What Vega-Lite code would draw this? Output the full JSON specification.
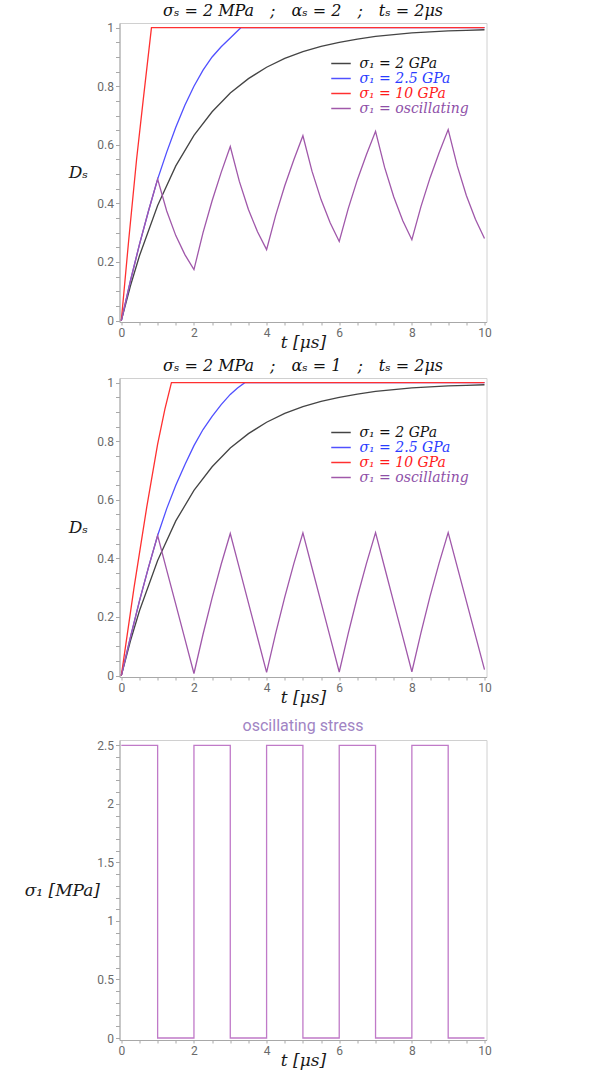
{
  "$schema": "https://vega.github.io/schema/vega-lite/v6.json",
  "background": "white",
  "padding": {"left": 23.5, "top": 2, "right": 5, "bottom": 2},
  "spacing": 6,
  "config": {
    "view": {"stroke": "#d0d0d0", "strokeWidth": 1},
    "axis": {
      "domainColor": "#a8a8a8", "tickColor": "#a8a8a8", "tickSize": 4,
      "labelColor": "#6a6a6a", "labelFont": "Roboto", "labelFontSize": 12,
      "labelFlush": false, "labelOverlap": false, "grid": false,
      "titleFont": "DejaVu Serif", "titleFontStyle": "italic", "titleFontWeight": "normal",
      "titleFontSize": 17, "titleColor": "#1a1a1a"
    }
  },
  "datasets": {
    "top": [
      {"s": "σ₁ = 2 GPa", "t": 0, "D": 0},
      {"s": "σ₁ = 2 GPa", "t": 0.25, "D": 0.118},
      {"s": "σ₁ = 2 GPa", "t": 0.5, "D": 0.221},
      {"s": "σ₁ = 2 GPa", "t": 1, "D": 0.393},
      {"s": "σ₁ = 2 GPa", "t": 1.5, "D": 0.528},
      {"s": "σ₁ = 2 GPa", "t": 2, "D": 0.632},
      {"s": "σ₁ = 2 GPa", "t": 2.5, "D": 0.713},
      {"s": "σ₁ = 2 GPa", "t": 3, "D": 0.777},
      {"s": "σ₁ = 2 GPa", "t": 3.5, "D": 0.826},
      {"s": "σ₁ = 2 GPa", "t": 4, "D": 0.865},
      {"s": "σ₁ = 2 GPa", "t": 4.5, "D": 0.895},
      {"s": "σ₁ = 2 GPa", "t": 5, "D": 0.918},
      {"s": "σ₁ = 2 GPa", "t": 5.5, "D": 0.936},
      {"s": "σ₁ = 2 GPa", "t": 6, "D": 0.95},
      {"s": "σ₁ = 2 GPa", "t": 6.5, "D": 0.961},
      {"s": "σ₁ = 2 GPa", "t": 7, "D": 0.97},
      {"s": "σ₁ = 2 GPa", "t": 7.5, "D": 0.976},
      {"s": "σ₁ = 2 GPa", "t": 8, "D": 0.982},
      {"s": "σ₁ = 2 GPa", "t": 8.5, "D": 0.986},
      {"s": "σ₁ = 2 GPa", "t": 9, "D": 0.989},
      {"s": "σ₁ = 2 GPa", "t": 9.5, "D": 0.991},
      {"s": "σ₁ = 2 GPa", "t": 10, "D": 0.993},
      {"s": "σ₁ = 2.5 GPa", "t": 0, "D": 0},
      {"s": "σ₁ = 2.5 GPa", "t": 0.25, "D": 0.135},
      {"s": "σ₁ = 2.5 GPa", "t": 0.5, "D": 0.26},
      {"s": "σ₁ = 2.5 GPa", "t": 0.75, "D": 0.375},
      {"s": "σ₁ = 2.5 GPa", "t": 1, "D": 0.483},
      {"s": "σ₁ = 2.5 GPa", "t": 1.25, "D": 0.575},
      {"s": "σ₁ = 2.5 GPa", "t": 1.5, "D": 0.66},
      {"s": "σ₁ = 2.5 GPa", "t": 1.75, "D": 0.735},
      {"s": "σ₁ = 2.5 GPa", "t": 2, "D": 0.8},
      {"s": "σ₁ = 2.5 GPa", "t": 2.25, "D": 0.855},
      {"s": "σ₁ = 2.5 GPa", "t": 2.5, "D": 0.9},
      {"s": "σ₁ = 2.5 GPa", "t": 2.75, "D": 0.935},
      {"s": "σ₁ = 2.5 GPa", "t": 3, "D": 0.965},
      {"s": "σ₁ = 2.5 GPa", "t": 3.29, "D": 1},
      {"s": "σ₁ = 2.5 GPa", "t": 10, "D": 1},
      {"s": "σ₁ = 10 GPa", "t": 0, "D": 0},
      {"s": "σ₁ = 10 GPa", "t": 0.2, "D": 0.27},
      {"s": "σ₁ = 10 GPa", "t": 0.42, "D": 0.55},
      {"s": "σ₁ = 10 GPa", "t": 0.6, "D": 0.75},
      {"s": "σ₁ = 10 GPa", "t": 0.83, "D": 1},
      {"s": "σ₁ = 10 GPa", "t": 10, "D": 1},
      {"s": "σ₁ = oscillating", "t": 0, "D": 0},
      {"s": "σ₁ = oscillating", "t": 0.25, "D": 0.135},
      {"s": "σ₁ = oscillating", "t": 0.5, "D": 0.26},
      {"s": "σ₁ = oscillating", "t": 0.75, "D": 0.375},
      {"s": "σ₁ = oscillating", "t": 1, "D": 0.483},
      {"s": "σ₁ = oscillating", "t": 1.25, "D": 0.374},
      {"s": "σ₁ = oscillating", "t": 1.5, "D": 0.29},
      {"s": "σ₁ = oscillating", "t": 1.75, "D": 0.225},
      {"s": "σ₁ = oscillating", "t": 2, "D": 0.174},
      {"s": "σ₁ = oscillating", "t": 2.25, "D": 0.3},
      {"s": "σ₁ = oscillating", "t": 2.5, "D": 0.409},
      {"s": "σ₁ = oscillating", "t": 2.75, "D": 0.506},
      {"s": "σ₁ = oscillating", "t": 3, "D": 0.594},
      {"s": "σ₁ = oscillating", "t": 3.25, "D": 0.475},
      {"s": "σ₁ = oscillating", "t": 3.5, "D": 0.379},
      {"s": "σ₁ = oscillating", "t": 3.75, "D": 0.303},
      {"s": "σ₁ = oscillating", "t": 4, "D": 0.242},
      {"s": "σ₁ = oscillating", "t": 4.25, "D": 0.359},
      {"s": "σ₁ = oscillating", "t": 4.5, "D": 0.46},
      {"s": "σ₁ = oscillating", "t": 4.75, "D": 0.549},
      {"s": "σ₁ = oscillating", "t": 5, "D": 0.631},
      {"s": "σ₁ = oscillating", "t": 5.25, "D": 0.51},
      {"s": "σ₁ = oscillating", "t": 5.5, "D": 0.413},
      {"s": "σ₁ = oscillating", "t": 5.75, "D": 0.334},
      {"s": "σ₁ = oscillating", "t": 6, "D": 0.27},
      {"s": "σ₁ = oscillating", "t": 6.25, "D": 0.383},
      {"s": "σ₁ = oscillating", "t": 6.5, "D": 0.481},
      {"s": "σ₁ = oscillating", "t": 6.75, "D": 0.567},
      {"s": "σ₁ = oscillating", "t": 7, "D": 0.646},
      {"s": "σ₁ = oscillating", "t": 7.25, "D": 0.523},
      {"s": "σ₁ = oscillating", "t": 7.5, "D": 0.4225},
      {"s": "σ₁ = oscillating", "t": 7.75, "D": 0.341},
      {"s": "σ₁ = oscillating", "t": 8, "D": 0.276},
      {"s": "σ₁ = oscillating", "t": 8.25, "D": 0.389},
      {"s": "σ₁ = oscillating", "t": 8.5, "D": 0.487},
      {"s": "σ₁ = oscillating", "t": 8.75, "D": 0.573},
      {"s": "σ₁ = oscillating", "t": 9, "D": 0.652},
      {"s": "σ₁ = oscillating", "t": 9.25, "D": 0.528},
      {"s": "σ₁ = oscillating", "t": 9.5, "D": 0.427},
      {"s": "σ₁ = oscillating", "t": 9.75, "D": 0.346},
      {"s": "σ₁ = oscillating", "t": 10, "D": 0.28}
    ],
    "mid": [
      {"s": "σ₁ = 2 GPa", "t": 0, "D": 0},
      {"s": "σ₁ = 2 GPa", "t": 0.25, "D": 0.118},
      {"s": "σ₁ = 2 GPa", "t": 0.5, "D": 0.221},
      {"s": "σ₁ = 2 GPa", "t": 1, "D": 0.393},
      {"s": "σ₁ = 2 GPa", "t": 1.5, "D": 0.528},
      {"s": "σ₁ = 2 GPa", "t": 2, "D": 0.632},
      {"s": "σ₁ = 2 GPa", "t": 2.5, "D": 0.713},
      {"s": "σ₁ = 2 GPa", "t": 3, "D": 0.777},
      {"s": "σ₁ = 2 GPa", "t": 3.5, "D": 0.826},
      {"s": "σ₁ = 2 GPa", "t": 4, "D": 0.865},
      {"s": "σ₁ = 2 GPa", "t": 4.5, "D": 0.895},
      {"s": "σ₁ = 2 GPa", "t": 5, "D": 0.918},
      {"s": "σ₁ = 2 GPa", "t": 5.5, "D": 0.936},
      {"s": "σ₁ = 2 GPa", "t": 6, "D": 0.95},
      {"s": "σ₁ = 2 GPa", "t": 6.5, "D": 0.961},
      {"s": "σ₁ = 2 GPa", "t": 7, "D": 0.97},
      {"s": "σ₁ = 2 GPa", "t": 7.5, "D": 0.976},
      {"s": "σ₁ = 2 GPa", "t": 8, "D": 0.982},
      {"s": "σ₁ = 2 GPa", "t": 8.5, "D": 0.986},
      {"s": "σ₁ = 2 GPa", "t": 9, "D": 0.989},
      {"s": "σ₁ = 2 GPa", "t": 9.5, "D": 0.991},
      {"s": "σ₁ = 2 GPa", "t": 10, "D": 0.993},
      {"s": "σ₁ = 2.5 GPa", "t": 0, "D": 0},
      {"s": "σ₁ = 2.5 GPa", "t": 0.25, "D": 0.13},
      {"s": "σ₁ = 2.5 GPa", "t": 0.5, "D": 0.255},
      {"s": "σ₁ = 2.5 GPa", "t": 0.75, "D": 0.37},
      {"s": "σ₁ = 2.5 GPa", "t": 1, "D": 0.478},
      {"s": "σ₁ = 2.5 GPa", "t": 1.25, "D": 0.57},
      {"s": "σ₁ = 2.5 GPa", "t": 1.5, "D": 0.65},
      {"s": "σ₁ = 2.5 GPa", "t": 1.75, "D": 0.72},
      {"s": "σ₁ = 2.5 GPa", "t": 2, "D": 0.785},
      {"s": "σ₁ = 2.5 GPa", "t": 2.25, "D": 0.84},
      {"s": "σ₁ = 2.5 GPa", "t": 2.5, "D": 0.885},
      {"s": "σ₁ = 2.5 GPa", "t": 2.75, "D": 0.925},
      {"s": "σ₁ = 2.5 GPa", "t": 3, "D": 0.96},
      {"s": "σ₁ = 2.5 GPa", "t": 3.2, "D": 0.982},
      {"s": "σ₁ = 2.5 GPa", "t": 3.4, "D": 1},
      {"s": "σ₁ = 2.5 GPa", "t": 10, "D": 1},
      {"s": "σ₁ = 10 GPa", "t": 0, "D": 0},
      {"s": "σ₁ = 10 GPa", "t": 0.35, "D": 0.3},
      {"s": "σ₁ = 10 GPa", "t": 0.7, "D": 0.575},
      {"s": "σ₁ = 10 GPa", "t": 1, "D": 0.79},
      {"s": "σ₁ = 10 GPa", "t": 1.2, "D": 0.91},
      {"s": "σ₁ = 10 GPa", "t": 1.38, "D": 1},
      {"s": "σ₁ = 10 GPa", "t": 10, "D": 1},
      {"s": "σ₁ = oscillating", "t": 0, "D": 0},
      {"s": "σ₁ = oscillating", "t": 0.25, "D": 0.13},
      {"s": "σ₁ = oscillating", "t": 0.5, "D": 0.255},
      {"s": "σ₁ = oscillating", "t": 0.75, "D": 0.37},
      {"s": "σ₁ = oscillating", "t": 1, "D": 0.478},
      {"s": "σ₁ = oscillating", "t": 1.25, "D": 0.36},
      {"s": "σ₁ = oscillating", "t": 1.5, "D": 0.243},
      {"s": "σ₁ = oscillating", "t": 1.75, "D": 0.125},
      {"s": "σ₁ = oscillating", "t": 2, "D": 0.007},
      {"s": "σ₁ = oscillating", "t": 2.25, "D": 0.141},
      {"s": "σ₁ = oscillating", "t": 2.5, "D": 0.265},
      {"s": "σ₁ = oscillating", "t": 2.75, "D": 0.38},
      {"s": "σ₁ = oscillating", "t": 3, "D": 0.485},
      {"s": "σ₁ = oscillating", "t": 3.25, "D": 0.367},
      {"s": "σ₁ = oscillating", "t": 3.5, "D": 0.248},
      {"s": "σ₁ = oscillating", "t": 3.75, "D": 0.13},
      {"s": "σ₁ = oscillating", "t": 4, "D": 0.011},
      {"s": "σ₁ = oscillating", "t": 4.25, "D": 0.144},
      {"s": "σ₁ = oscillating", "t": 4.5, "D": 0.268},
      {"s": "σ₁ = oscillating", "t": 4.75, "D": 0.382},
      {"s": "σ₁ = oscillating", "t": 5, "D": 0.487},
      {"s": "σ₁ = oscillating", "t": 5.25, "D": 0.368},
      {"s": "σ₁ = oscillating", "t": 5.5, "D": 0.25},
      {"s": "σ₁ = oscillating", "t": 5.75, "D": 0.131},
      {"s": "σ₁ = oscillating", "t": 6, "D": 0.012},
      {"s": "σ₁ = oscillating", "t": 6.25, "D": 0.145},
      {"s": "σ₁ = oscillating", "t": 6.5, "D": 0.269},
      {"s": "σ₁ = oscillating", "t": 6.75, "D": 0.383},
      {"s": "σ₁ = oscillating", "t": 7, "D": 0.488},
      {"s": "σ₁ = oscillating", "t": 7.25, "D": 0.369},
      {"s": "σ₁ = oscillating", "t": 7.5, "D": 0.25},
      {"s": "σ₁ = oscillating", "t": 7.75, "D": 0.132},
      {"s": "σ₁ = oscillating", "t": 8, "D": 0.013},
      {"s": "σ₁ = oscillating", "t": 8.25, "D": 0.146},
      {"s": "σ₁ = oscillating", "t": 8.5, "D": 0.27},
      {"s": "σ₁ = oscillating", "t": 8.75, "D": 0.384},
      {"s": "σ₁ = oscillating", "t": 9, "D": 0.488},
      {"s": "σ₁ = oscillating", "t": 9.25, "D": 0.371},
      {"s": "σ₁ = oscillating", "t": 9.5, "D": 0.254},
      {"s": "σ₁ = oscillating", "t": 9.75, "D": 0.137},
      {"s": "σ₁ = oscillating", "t": 10, "D": 0.02}
    ],
    "stress": [
      {"t": 0, "sigma": 2.5},
      {"t": 1, "sigma": 0},
      {"t": 2, "sigma": 2.5},
      {"t": 3, "sigma": 0},
      {"t": 4, "sigma": 2.5},
      {"t": 5, "sigma": 0},
      {"t": 6, "sigma": 2.5},
      {"t": 7, "sigma": 0},
      {"t": 8, "sigma": 2.5},
      {"t": 9, "sigma": 0},
      {"t": 10, "sigma": 0}
    ]
  },
  "resolve": {"scale": {"color": "independent"}, "legend": {"color": "independent"}},
  "vconcat": [
    {
      "width": 367, "height": 299,
      "title": {"text": "σₛ = 2 MPa\u2002\u2002;\u2002\u2002αₛ = 2\u2002\u2002;\u2002\u2002tₛ = 2μs", "font": "DejaVu Serif", "fontStyle": "italic", "fontWeight": "normal", "fontSize": 16, "color": "#111111", "offset": 3},
      "data": {"name": "top"},
      "mark": {"type": "line", "strokeWidth": 1.3},
      "encoding": {
        "x": {"field": "t", "type": "quantitative", "title": "t [μs]",
          "scale": {"domain": [-0.05, 10.055], "nice": false, "zero": false},
          "axis": {"values": [0,0.5,1,1.5,2,2.5,3,3.5,4,4.5,5,5.5,6,6.5,7,7.5,8,8.5,9,9.5,10], "labelExpr": "datum.value % 2 === 0 ? format(datum.value, '~g') : ''", "titlePadding": -4, "tickSize": 3}},
        "y": {"field": "D", "type": "quantitative", "title": "Dₛ",
          "scale": {"domain": [-0.005, 1.016], "nice": false, "zero": false},
          "axis": {"values": [0,0.05,0.1,0.15,0.2,0.25,0.3,0.35,0.4,0.45,0.5,0.55,0.6,0.65,0.7,0.75,0.8,0.85,0.9,0.95,1], "labelExpr": "abs(datum.value*5 - round(datum.value*5)) < 0.000001 ? format(datum.value, '~g') : ''", "titleAngle": 0, "titleAlign": "right", "titleBaseline": "middle", "titleX": -32}},
        "color": {"field": "s", "type": "nominal", "sort": null,
          "scale": {"domain": ["σ₁ = 2 GPa", "σ₁ = 2.5 GPa", "σ₁ = 10 GPa", "σ₁ = oscillating"], "range": ["#444444", "#5050ff", "#ff3030", "#a058aa"]},
          "legend": {"orient": "none", "legendX": 214, "legendY": 33, "title": null, "symbolType": "M-1.5,0H1.5", "symbolSize": 169, "symbolStrokeWidth": 1.5, "labelFont": "DejaVu Serif", "labelFontStyle": "italic", "labelFontSize": 14, "labelOffset": 11, "rowPadding": -1, "padding": 0,
            "encode": {"labels": {"update": {"fill": {"signal": "indexof(datum.value,'2.5')>=0 ? '#2a3cff' : indexof(datum.value,'10')>=0 ? '#ff1a1a' : indexof(datum.value,'osc')>=0 ? '#8e4fa8' : '#111111'"}}}}}
        }
      }
    },
    {
      "width": 367, "height": 299,
      "title": {"text": "σₛ = 2 MPa\u2002\u2002;\u2002\u2002αₛ = 1\u2002\u2002;\u2002\u2002tₛ = 2μs", "font": "DejaVu Serif", "fontStyle": "italic", "fontWeight": "normal", "fontSize": 16, "color": "#111111", "offset": 3},
      "data": {"name": "mid"},
      "mark": {"type": "line", "strokeWidth": 1.3},
      "encoding": {
        "x": {"field": "t", "type": "quantitative", "title": ["t [μs]", " "],
          "scale": {"domain": [-0.05, 10.055], "nice": false, "zero": false},
          "axis": {"values": [0,0.5,1,1.5,2,2.5,3,3.5,4,4.5,5,5.5,6,6.5,7,7.5,8,8.5,9,9.5,10], "labelExpr": "datum.value % 2 === 0 ? format(datum.value, '~g') : ''", "titlePadding": -4, "tickSize": 3, "titleLineHeight": 5}},
        "y": {"field": "D", "type": "quantitative", "title": "Dₛ",
          "scale": {"domain": [-0.005, 1.016], "nice": false, "zero": false},
          "axis": {"values": [0,0.05,0.1,0.15,0.2,0.25,0.3,0.35,0.4,0.45,0.5,0.55,0.6,0.65,0.7,0.75,0.8,0.85,0.9,0.95,1], "labelExpr": "abs(datum.value*5 - round(datum.value*5)) < 0.000001 ? format(datum.value, '~g') : ''", "titleAngle": 0, "titleAlign": "right", "titleBaseline": "middle", "titleX": -32}},
        "color": {"field": "s", "type": "nominal", "sort": null,
          "scale": {"domain": ["σ₁ = 2 GPa", "σ₁ = 2.5 GPa", "σ₁ = 10 GPa", "σ₁ = oscillating"], "range": ["#444444", "#5050ff", "#ff3030", "#a058aa"]},
          "legend": {"orient": "none", "legendX": 214, "legendY": 47, "title": null, "symbolType": "M-1.5,0H1.5", "symbolSize": 169, "symbolStrokeWidth": 1.5, "labelFont": "DejaVu Serif", "labelFontStyle": "italic", "labelFontSize": 14, "labelOffset": 11, "rowPadding": -1, "padding": 0,
            "encode": {"labels": {"update": {"fill": {"signal": "indexof(datum.value,'2.5')>=0 ? '#2a3cff' : indexof(datum.value,'10')>=0 ? '#ff1a1a' : indexof(datum.value,'osc')>=0 ? '#8e4fa8' : '#111111'"}}}}}
        }
      }
    },
    {
      "width": 367, "height": 300,
      "title": {"text": "oscillating stress", "font": "Roboto", "fontWeight": "normal", "fontSize": 16, "color": "#a184c4", "offset": 5},
      "data": {"name": "stress"},
      "mark": {"type": "line", "strokeWidth": 1.3, "interpolate": "step-after", "color": "#c07ac8"},
      "encoding": {
        "x": {"field": "t", "type": "quantitative", "title": "t [μs]",
          "scale": {"domain": [-0.05, 10.055], "nice": false, "zero": false},
          "axis": {"values": [0,0.5,1,1.5,2,2.5,3,3.5,4,4.5,5,5.5,6,6.5,7,7.5,8,8.5,9,9.5,10], "labelExpr": "datum.value % 2 === 0 ? format(datum.value, '~g') : ''", "titlePadding": -4, "tickSize": 3}},
        "y": {"field": "sigma", "type": "quantitative", "title": "σ₁ [MPa]",
          "scale": {"domain": [-0.017, 2.546], "nice": false, "zero": false},
          "axis": {"values": [0,0.1,0.2,0.3,0.4,0.5,0.6,0.7,0.8,0.9,1,1.1,1.2,1.3,1.4,1.5,1.6,1.7,1.8,1.9,2,2.1,2.2,2.3,2.4,2.5], "labelExpr": "abs(datum.value*2 - round(datum.value*2)) < 0.000001 ? format(datum.value, '~g') : ''", "titleAngle": 0, "titleAlign": "right", "titleBaseline": "middle", "titleX": -20}}
      }
    }
  ]
}
